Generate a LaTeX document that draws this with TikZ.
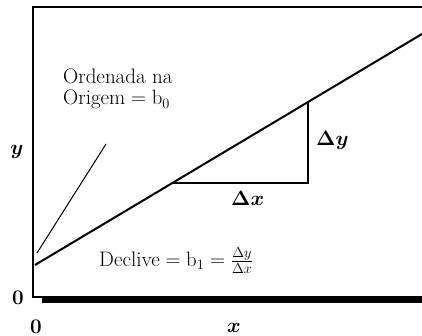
\documentclass[tikz,border=0pt]{standalone}
\usepackage{bm}
\begin{document}
\begin{tikzpicture}[x=1pt,y=-1pt,
  lbl/.style={inner sep=0pt,font=\fontsize{21}{21}\selectfont},
  dlbl/.style={inner sep=0pt,font=\fontsize{20}{22}\selectfont}]
\useasboundingbox (0,0) rectangle (422,336);
% frame / axes
\coordinate (tr) at (422,7);
\coordinate (tl) at (33,7);
\coordinate (bl) at (33,297);
\coordinate (br) at (422,297);
\draw[line width=2.4pt] (tr) -- (tl) -- (bl) -- (br);
\coordinate (b1) at (42,300.5);
\coordinate (b2) at (422,300.5);
\draw[line width=4.5pt] (b1) -- (b2);
% regression line
\coordinate (p0) at (35,265);
\coordinate (p1) at (422,34);
\draw[line width=2pt] (p0) -- (p1);
% triangle
\coordinate (ta) at (173,183);
\coordinate (tb) at (308,183);
\coordinate (tc) at (308,103);
\draw[line width=1.5pt] (ta) -- (tb) -- (tc);
% pointer
\coordinate (q0) at (37,253);
\coordinate (q1) at (106,144);
\draw[line width=1pt] (q0) -- (q1);
% labels
\node[lbl,anchor=base west,align=left] (ord) at (63,105) {Ordenada na\\[0pt]Origem${}=\mathrm{b}_0$};
\node[dlbl,anchor=base west] (dy) at (316,146) {$\bm{\Delta y}$};
\node[dlbl,anchor=base west] (dx) at (231,206) {$\bm{\Delta x}$};
\node[lbl,anchor=base west] (dec) at (99,266) {Declive${}=\mathrm{b}_1=\frac{\Delta y}{\Delta x}$};
\node[lbl,anchor=base] (ylab) at (17,155) {$\bm{y}$};
\node[lbl,anchor=base] (z1) at (18,304) {$\mathbf{0}$};
\node[lbl,anchor=base] (z2) at (36,333) {$\mathbf{0}$};
\node[lbl,anchor=base] (xlab) at (234,332) {$\bm{x}$};
\end{tikzpicture}
\end{document}
